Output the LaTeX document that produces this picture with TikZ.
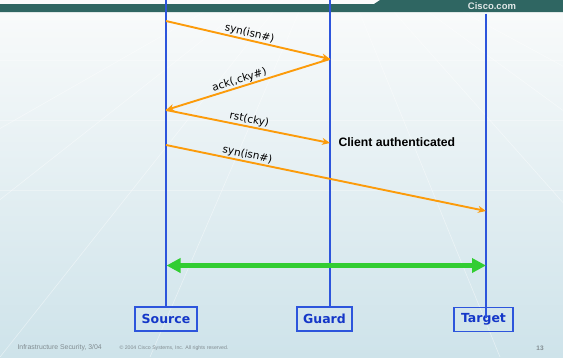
\documentclass[tikz,border=0pt]{standalone}
\usepackage{fontspec}
\newfontfamily\verd{DejaVu Sans}
\newfontfamily\arial{Liberation Sans}
\usetikzlibrary{arrows.meta}
\definecolor{bartea}{RGB}{47,102,98}
\definecolor{bgtop}{RGB}{250,251,251}
\definecolor{bgbot}{RGB}{206,227,234}
\definecolor{lifeblue}{RGB}{45,85,220}
\definecolor{labblue}{RGB}{20,55,200}
\definecolor{msgorange}{RGB}{252,155,10}
\definecolor{linkgreen}{RGB}{50,205,50}
\definecolor{footgray}{RGB}{130,140,145}
\definecolor{cisco}{RGB}{225,232,232}
\begin{document}
\begin{tikzpicture}[x=1pt,y=-1pt,
  lifeline/.style={draw=lifeblue,line width=1.4pt},
  entity/.style={draw=lifeblue,line width=1.2pt,text=labblue,
    font=\verd\bfseries\fontsize{12.5}{14}\selectfont,
    minimum height=24pt,inner sep=0pt},
  msg/.style={draw=msgorange,line width=1.9pt,
    -{Stealth[length=8pt,width=7pt,inset=2.5pt]}},
  msglabel/.style={sloped,above,inner sep=0.6pt,
    font=\verd\fontsize{10.5}{12}\selectfont},
  link/.style={draw=linkgreen,line width=5pt,
    {Triangle[length=14pt,width=14pt]}-{Triangle[length=14pt,width=14pt]}},
  perspline/.style={draw=white,line width=0.6pt,opacity=0.45},
]
% slide background
\shade[top color=bgtop,bottom color=bgbot] (0,0) rectangle (563,357);
\useasboundingbox (0,0) rectangle (563,357);
\foreach \x in {-400,-200,0,150,500,700,900,1100}
  \draw[perspline] (330,-60) -- (\x,357);
\foreach \y in {60,120,190}
  \draw[perspline,opacity=0.3] (0,\y) -- (563,\y);

% header bar
\fill[bartea] (0,4) -- (374,4) -- (380,0) -- (563,0) -- (563,12) -- (0,12) -- cycle;
\node[text=cisco,font=\arial\bfseries\fontsize{9.5}{10}\selectfont] (site) at (492,6) {Cisco.com};

% entities
\node[entity,minimum width=62pt] (src) at (166,319) {Source};
\node[entity,minimum width=55pt] (grd) at (324.5,319) {Guard};
\node[entity,minimum width=59pt] (tgt) at (483.5,319.5) {Target};

% lifelines
\coordinate (srctop) at (166,0);
\coordinate (grdtop) at (330,0);
\coordinate (tgttop) at (486,13.5);
\coordinate (tgtend) at (486,318);
\draw[lifeline] (srctop) -- (srctop |- src.north);
\draw[lifeline] (grdtop) -- (grdtop |- grd.north);
\draw[lifeline] (tgttop) -- (tgtend);

% message endpoints on the lifelines
\coordinate (s1) at (166,21);
\coordinate (g1) at (330,59);
\coordinate (s2) at (166,110);
\coordinate (g2) at (330,143);
\coordinate (s3) at (166,145);
\coordinate (t3) at (486,211);

\draw[msg] (s1) -- node[msglabel]{syn(isn\#)} (g1);
\draw[msg] (g1) -- node[msglabel,pos=0.54]{ack(,cky\#)} (s2);
\draw[msg] (s2) -- node[msglabel]{rst(cky)} (g2);
\draw[msg] (s3) -- node[msglabel,pos=0.25]{syn(isn\#)} (t3);

\node[anchor=west,font=\arial\bfseries\fontsize{12.2}{14}\selectfont] (auth) at (335,142) {Client authenticated};

% established connection
\coordinate (gl) at (166.5,265.5);
\coordinate (gr) at (486,265.5);
\draw[link] (gl) -- (gr);

% footer
\node[anchor=west,text=footgray,font=\arial\fontsize{6.9}{8}\selectfont] (foot) at (14,348) {Infrastructure Security, 3/04};
\node[anchor=west,text=footgray,font=\arial\fontsize{5.2}{6}\selectfont] (copy) at (116,348.5) {© 2004 Cisco Systems, Inc. All rights reserved.};
\node[text=footgray,font=\arial\bfseries\fontsize{6.5}{7}\selectfont] (page) at (540,348) {13};
\end{tikzpicture}
\end{document}
